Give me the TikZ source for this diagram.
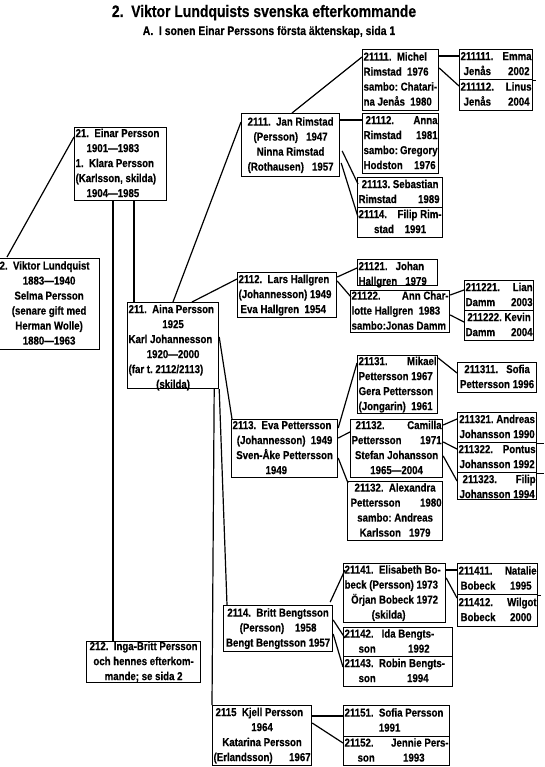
\documentclass[tikz,border=0pt]{standalone}
\usepackage{fontspec}
\setmainfont{Liberation Sans}[FakeStretch=0.84,BoldFeatures={FakeBold=0.4}]
\frenchspacing
\newcommand\lft[1]{#1\hfill\null}
\newcommand\bxt[4]{\parbox[c][#2pt][#3]{\dimexpr#1pt-2pt\relax}{\centering\strut#4\strut}}
\begin{document}
\begin{tikzpicture}[x=1pt,y=-1pt,
  bx/.style={draw, line width=1.2pt, inner sep=0pt, inner xsep=1pt, anchor=north west,
    font=\fontsize{11.5}{15}\selectfont\bfseries},
  conn/.style={line width=1.2pt},
  ttl/.style={anchor=base, inner sep=0pt, font=\bfseries}]
\useasboundingbox (0,0) rectangle (544,767);
\fill[white] (0,0) rectangle (544,767);

\node[ttl] (title) at (264,17) {\fontsize{16.6}{18}\selectfont 2.\ \ Viktor Lundquists svenska efterkommande};
\node[ttl] (sub) at (269,35) {\fontsize{12.4}{14}\selectfont A.\ \ I sonen Einar Perssons första äktenskap, sida 1};

% generation 2 / 21
\node[bx] (b2) at (-2,258) {\bxt{101}{91}{c}{\lft{2.\ \ Viktor~Lundquist}\\ 1883—1940\\ Selma Persson\\ (senare gift med\\ Herman Wolle)\\ 1880—1963}};
\node[bx] (b21) at (74,127) {\bxt{92}{73}{c}{\lft{21.\ \ Einar~Persson}\\ \lft{\hspace*{11pt}1901—1983}\\ \lft{1.\ \ Klara~Persson}\\ \lft{(Karlsson,~skilda)}\\ \lft{\hspace*{11pt}1904—1985}}};
\node[bx] (b211) at (127,302) {\bxt{91}{86}{t}{\lft{211.\ \ Aina~Persson}\\ 1925\\ \lft{Karl~Johannesson}\\ 1920—2000\\ \lft{(far~t.~2112/2113)}\\ (skilda)}};
\node[bx] (b212) at (86,641) {\bxt{114}{41}{c}{212.\ \ Inga-Britt~Persson\\ och hennes efterkom-\\ mande; se sida 2}};

% 2111
\node[bx] (b2111) at (241,113) {\bxt{98}{63}{c}{2111.\ \ Jan~Rimstad\\ (Persson)\ \ \ 1947\\ Ninna Rimstad\\ (Rothausen)~~~1957}};
\node[bx] (b21111) at (362,49) {\bxt{76}{61}{c}{\lft{21111.\ \ Michel}\\ \lft{Rimstad\ \ 1976}\\ \lft{sambo:~Chatari-}\\ \lft{na~Jenås\ \ 1980}}};
\node[bx] (b211111) at (459,49) {\bxt{73}{30}{c}{211111.\hfill Emma\\ \hspace*{3pt}Jenås\hfill 2002\hspace*{2pt}}};
\node[bx] (b211112) at (459,79) {\bxt{73}{31}{c}{211112.\hfill Linus\hspace*{2pt}\\ \hspace*{3pt}Jenås\hfill 2004\hspace*{2pt}}};
\node[bx] (b21112) at (362,113) {\bxt{76}{60}{c}{\hspace*{2pt}21112.\hfill Anna\hspace*{2pt}\\ Rimstad\hfill 1981\hspace*{2pt}\\ sambo:~Gregory\\ Hodston\hfill 1976\hspace*{2pt}}};
\node[bx] (b21113) at (357,177) {\bxt{85}{30}{c}{21113.~Sebastian\\ Rimstad\hfill 1989\hspace*{2pt}}};
\node[bx] (b21114) at (357,207) {\bxt{85}{30}{c}{21114.\hfill Filip~Rim-\\ stad\ \ \ \ 1991}};

% 2112
\node[bx] (b2112) at (237,272) {\bxt{99}{45}{c}{\lft{2112.\ \ Lars~Hallgren}\\ \lft{(Johannesson)~1949}\\ \lft{\hspace*{2pt}Eva~Hallgren\ \ 1954}}};
\node[bx] (b21121) at (357,259) {\bxt{80}{26}{t}{\lft{21121.\ \ \ Johan}\\ \lft{Hallgren\ \ \ 1979}}};
\node[bx] (b21122) at (350,290) {\bxt{99}{42}{c}{21122.\hfill Ann~Char-\hspace*{3pt}\\ \lft{lotte~Hallgren\ \ 1983}\\ \lft{sambo:Jonas~Damm}}};
\node[bx] (b211221) at (464,280) {\bxt{69}{30}{c}{211221.\hfill Lian\hspace*{3pt}\\ Damm\hfill 2003}};
\node[bx] (b211222) at (464,310) {\bxt{69}{30}{c}{211222.~Kevin\\ Damm\hfill 2004}};

% 2113
\node[bx] (b2113) at (231,419) {\bxt{106}{58}{c}{\lft{2113.\ \ Eva~Pettersson}\\ (Johannesson)~~1949\\ Sven-Åke~Pettersson\\ \lft{\hspace*{33pt}1949}}};
\node[bx] (b21131) at (357,355) {\bxt{80}{58}{c}{21131.\hfill Mikael\hspace*{2pt}\\ \lft{Pettersson~1967}\\ \lft{Gera~Pettersson}\\ \lft{(Jongarin)\ \ 1961}}};
\node[bx] (b211311) at (457,362) {\bxt{79}{30}{c}{211311.\ \ \ Sofia\\ Pettersson~1996}};
\node[bx] (b21132c) at (350,419) {\bxt{92}{58}{c}{\hspace*{4pt}21132.\hfill Camilla\hspace*{5pt}\\ Pettersson\hfill 1971\hspace*{3pt}\\ Stefan~Johansson\\ 1965—2004}};
\node[bx] (b211321) at (457,412) {\bxt{79}{30}{c}{211321.~Andreas\\ Johansson~1990}};
\node[bx] (b211322) at (457,442) {\bxt{79}{30}{c}{211322.\hfill Pontus\hspace*{2pt}\\ Johansson~1992}};
\node[bx] (b211323) at (457,472) {\bxt{79}{27}{t}{\hspace*{4pt}211323.\hfill Filip\hspace*{4pt}\\ Johansson~1994}};
\node[bx] (b21132a) at (347,481) {\bxt{95}{59}{c}{21132.\ \ Alexandra\\ \hspace*{2pt}Pettersson\hfill 1980\hspace*{5pt}\\ sambo:~Andreas\\ Karlsson\ \ \ 1979}};

% 2114
\node[bx] (b2114) at (223,605) {\bxt{109}{46}{c}{2114.\ \ Britt~Bengtsson\\ (Persson)\ \ \ \ 1958\\ Bengt~Bengtsson~1957}};
\node[bx] (b21141) at (343,563) {\bxt{102}{59}{c}{\lft{21141.\ \ Elisabeth~Bo-}\\ \lft{beck~(Persson)~1973}\\ Örjan~Bobeck~1972\\ (skilda)\hspace*{12pt}}};
\node[bx] (b211411) at (457,563) {\bxt{80}{31}{c}{211411.\hfill Natalie\hspace*{2pt}\\ \hspace*{2pt}Bobeck\hfill 1995\hspace*{5pt}}};
\node[bx] (b211412) at (457,594) {\bxt{80}{32}{c}{211412.\hfill Wilgot\hspace*{2pt}\\ \hspace*{2pt}Bobeck\hfill 2000\hspace*{5pt}}};
\node[bx] (b21142) at (343,627) {\bxt{109}{29}{c}{\lft{21142.\ \ \ Ida~Bengts-}\\ \hspace*{14pt}son\hfill 1992\hspace*{22pt}}};
\node[bx] (b21143) at (343,656) {\bxt{109}{30}{c}{\lft{21143.\ \ Robin~Bengts-}\\ \hspace*{14pt}son\hfill 1994\hspace*{23pt}}};

% 2115
\node[bx] (b2115) at (212,705) {\bxt{99}{60}{c}{\lft{\hspace*{2pt}2115\ \ Kjell~Persson}\\ 1964\\ Katarina~Persson\\ (Erlandsson)\hfill 1967}};
\node[bx] (b21151) at (343,705) {\bxt{106}{31}{c}{\lft{21151.\ \ Sofia~Persson}\\ 1991\hspace*{14pt}}};
\node[bx] (b21152) at (343,736) {\bxt{106}{29}{c}{21152.\hfill Jennie~Pers-\hspace*{6pt}\\ \hspace*{13pt}son\hfill 1993\hspace*{24pt}}};

% connectors
\draw[conn] ([xshift=9pt,yshift=1pt]b2.north west) -- ([yshift=-10pt]b21.north west);
\draw[conn] ([xshift=39pt]b21.south west) -- ([xshift=27pt]b212.north west);
\draw[conn] ([xshift=60pt]b21.south west) -- ([xshift=7pt]b211.north west);
\draw[conn] ([xshift=46pt]b211.north west) -- ([yshift=-9pt]b2111.north west);
\draw[conn] ([xshift=65pt]b211.north west) -- ([yshift=-7pt]b2112.north west);
\draw[conn] ([yshift=-35pt]b211.north east) -- ([xshift=1pt]b2113.north west);
\draw[conn] (b211.south east) -- ([xshift=4pt]b2114.north west);
\draw[conn] ([xshift=-5pt]b211.south east) -- (b2115.north west);
\draw[conn] ([xshift=51pt]b2111.north west) -- ([yshift=-8pt]b21111.north west);
\draw[conn] ([yshift=-7pt]b2111.north east) -- ([yshift=-7pt]b21112.north west);
\draw[conn] ([xshift=2pt,yshift=-38pt]b2111.north east) -- ([xshift=1pt,yshift=-7pt]b21113.north west);
\draw[conn] ([xshift=1pt,yshift=-50pt]b2111.north east) -- ([xshift=1pt,yshift=-10pt]b21114.north west);
\draw[conn] ([yshift=-7pt]b21111.north east) -- ([yshift=-7pt]b211111.north west);
\draw[conn] ([yshift=-19pt]b21111.north east) -- ([yshift=-7pt]b211112.north west);
\draw[conn] ([yshift=-5pt]b2112.north east) -- ([yshift=-9pt]b21121.north west);
\draw[conn] ([yshift=-9pt]b2112.north east) -- ([xshift=1pt,yshift=-7pt]b21122.north west);
\draw[conn] ([yshift=-5pt]b21122.north east) -- ([yshift=-10pt]b211221.north west);
\draw[conn] ([yshift=-25pt]b21122.north east) -- ([yshift=-12pt]b211222.north west);
\draw[conn] ([yshift=-9pt]b2113.north east) -- ([yshift=-8pt]b21131.north west);
\draw[conn] ([yshift=-19pt]b2113.north east) -- ([yshift=-13pt]b21132c.north west);
\draw[conn] ([yshift=-39pt]b2113.north east) -- ([xshift=1pt,yshift=-2pt]b21132a.north west);
\draw[conn] ([yshift=-3pt]b21131.north east) -- ([yshift=-11pt]b211311.north west);
\draw[conn] ([yshift=-6pt]b21132c.north east) -- ([yshift=-7pt]b211321.north west);
\draw[conn] ([yshift=-23pt]b21132c.north east) -- ([yshift=-7pt]b211322.north west);
\draw[conn] ([yshift=-37pt]b21132c.north east) -- ([yshift=-9pt]b211323.north west);
\draw[conn] ([xshift=-3pt,yshift=3pt]b2114.north east) -- ([xshift=2pt,yshift=-7pt]b21141.north west);
\draw[conn] ([yshift=-15pt]b2114.north east) -- ([xshift=2pt,yshift=-11pt]b21142.north west);
\draw[conn] ([yshift=-29pt]b2114.north east) -- ([yshift=-11pt]b21143.north west);
\draw[conn] ([yshift=-7pt]b21141.north east) -- ([yshift=-7pt]b211411.north west);
\draw[conn] ([yshift=-15pt]b21141.north east) -- ([yshift=-4pt]b211412.north west);
\draw[conn] ([yshift=-11pt]b2115.north east) -- ([yshift=-11pt]b21151.north west);
\draw[conn] ([yshift=-18pt]b2115.north east) -- ([yshift=-7pt]b21152.north west);

% short separator overhangs
\draw[conn] (b211111.south east) -- ++(3,0);
\draw[conn] (b211321.south east) -- ++(7,0);
\draw[conn] (b211322.south east) -- ++(7,0);
\draw[conn] (b211411.south east) -- ++(3,0);
\end{tikzpicture}
\end{document}
